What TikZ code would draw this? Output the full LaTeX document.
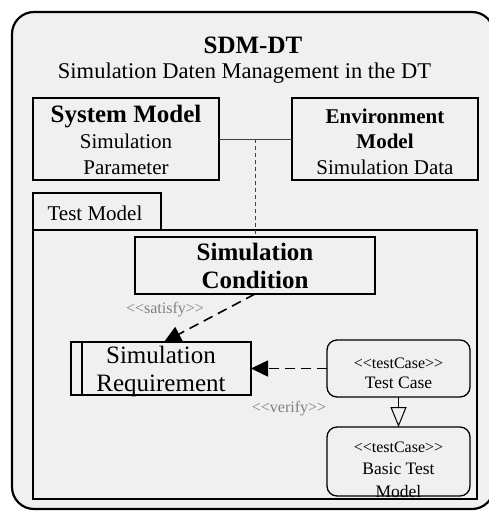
\documentclass[tikz,border=0pt]{standalone}
\usepackage{fontspec}
\setmainfont{Liberation Serif}
\usetikzlibrary{arrows.meta}
\definecolor{panel}{HTML}{F0F0F0}
\definecolor{stereo}{HTML}{808080}
\definecolor{wire}{HTML}{404040}
\newcommand\fsz[2]{\fontsize{#1}{#2}\selectfont}
\newcommand\stereotype[1]{<{}<#1>{}>}
\tikzset{
  block/.style={draw=black, line width=1.3pt, fill=panel, inner sep=0pt, outer sep=0pt},
  usecase/.style={block, rounded corners=10pt},
  % multi-line texts are placed by the baseline of their last line
  txt/.style={inner sep=0pt, outer sep=0pt, anchor=base, align=center},
  tag/.style={txt, text=stereo, font=\fsz{16}{18}},
  flow/.style={line width=1.6pt, dash pattern=on 10pt off 6pt, -{Triangle[length=17pt,width=16pt]}},
  inherit/.style={line width=1pt, -{Triangle[length=20pt,width=16pt,fill=panel]}},
  link/.style={draw=wire, line width=1pt},
  trace/.style={draw=wire, line width=0.8pt, dash pattern=on 4pt off 3pt}
}
\begin{document}
\begin{tikzpicture}[x=1pt,y=-1pt]
\useasboundingbox (0,0) rectangle (489,511);
% outer package frame
\begin{scope}
  \clip (0,0) rectangle (489,511);
  \draw[line width=2.2pt, fill=panel, rounded corners=22pt] (12,12) rectangle (494,509);
\end{scope}
\node[txt, font=\fsz{25}{28}\bfseries] (title) at (253,53) {SDM-DT};
\node[txt, font=\fsz{22.5}{26}] (subtitle) at (244.5,78) {Simulation Daten Management in the DT};

% top-level models
\node[block, minimum width=186pt, minimum height=82pt] (sys) at (126,139) {};
\node[block, minimum width=186pt, minimum height=82pt] (env) at (385,139) {};
\node[txt, font=\fsz{21}{26}] (systxt) at (126,174) {{\fsz{25}{26}\bfseries System Model}\\Simulation\\Parameter};
\node[txt, font=\fsz{21}{25.5}] (envtxt) at (385,174) {\textbf{Environment}\\\textbf{Model}\\Simulation Data};

% test model package
\node[block, minimum width=128pt, minimum height=37pt] (tab) at (97,211.5) {};
\node[block, minimum width=444pt, minimum height=269pt] (frame) at (255,364.5) {};
\node[txt, font=\fsz{21}{24}] (tabtxt) at (95,220) {Test Model};

\node[block, minimum width=240pt, minimum height=57pt] (cond) at (255,265.5) {};
\node[txt, font=\fsz{25}{28}\bfseries] (condtxt) at (255,288) {Simulation\\Condition};

\node[block, minimum width=180pt, minimum height=53pt] (req) at (161,368.5) {};
\draw[line width=1.3pt] ([xshift=11pt]req.north west) -- ([xshift=11pt]req.south west);
\node[txt, font=\fsz{25}{28}] (reqtxt) at (161,391) {Simulation\\Requirement};

\node[usecase, minimum width=143pt, minimum height=57pt] (tc) at (398.5,368.5) {};
\node[txt, font=\fsz{17.5}{20}] (tctxt) at (398.5,388) {{\fsz{16}{20}\stereotype{testCase}}\\Test Case};

\node[usecase, minimum width=143pt, minimum height=69pt] (btm) at (398.5,461.5) {};
\node[txt, font=\fsz{17.5}{22.5}] (btmtxt) at (398.5,497) {{\fsz{16}{22.5}\stereotype{testCase}}\\Basic Test\\Model};

% connectors
\coordinate (joint) at (cond.north |- sys.east);
\draw[link] (sys.east) -- (env.west);
\draw[trace] (joint) -- (cond.north);
\draw[flow] (cond.south) -- ([xshift=3pt]req.north);
\draw[flow] (tc.west) -- (req.east);
\draw[inherit] (tc.south) -- (btm.north);

\node[tag] (satisfy) at (165,313) {\stereotype{satisfy}};
\node[tag] (verify) at (289,412) {\stereotype{verify}};
\end{tikzpicture}
\end{document}
